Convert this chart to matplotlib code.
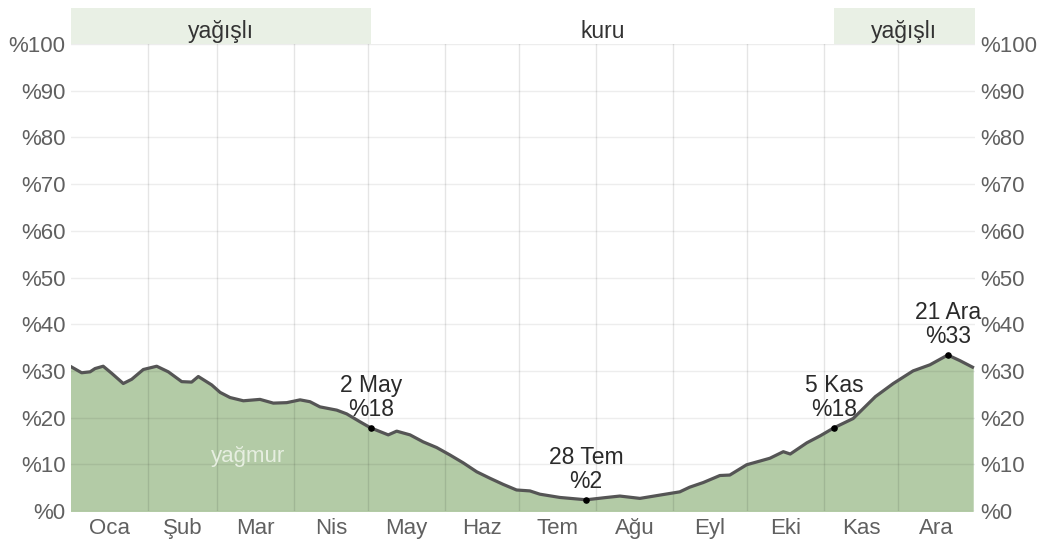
import numpy as np
import matplotlib.pyplot as plt
import matplotlib.transforms as mtransforms

plt.rcParams["font.family"] = ["Liberation Sans", "DejaVu Sans"]

# gün (yılın günü) ve yağmurlu gün olasılığı (%)
gun = [0, 4.3, 7.7, 9.7, 13, 16.4, 21.1, 24.5, 29.2, 34.6, 39.3, 44.7, 48.7, 51.4, 56.8,
       60.2, 64.2, 69.6, 76.3, 81.7, 87.1, 92.5, 96.5, 100.5, 107.3, 111.3, 116.7, 121,
       128.1, 131.5, 136.9, 142.2, 147.6, 153, 158.4, 163.8, 169.2, 174.5, 179.9, 185.3,
       189.3, 197.4, 208, 216.3, 221.6, 229.7, 237.7, 245.8, 249.8, 255.3, 262, 266,
       272.8, 278.2, 282.2, 287.6, 290.4, 297.1, 302.5, 308, 315.8, 324.8, 332, 340,
       346.8, 354, 358.9, 364]
olasilik = [30.9, 29.6, 29.8, 30.5, 31.0, 29.5, 27.3, 28.2, 30.3, 31.0, 29.8, 27.7, 27.6,
            28.8, 27.0, 25.4, 24.3, 23.6, 23.9, 23.1, 23.2, 23.8, 23.4, 22.3, 21.6, 20.8,
            19.1, 17.8, 16.3, 17.1, 16.3, 14.8, 13.6, 12.0, 10.3, 8.4, 7.0, 5.7, 4.5, 4.3,
            3.6, 2.9, 2.4, 2.9, 3.2, 2.7, 3.4, 4.1, 5.1, 6.1, 7.6, 7.7, 9.9, 10.7, 11.3,
            12.7, 12.2, 14.6, 16.1, 17.8, 19.8, 24.5, 27.3, 30.0, 31.3, 33.4, 32.2, 30.8]

aylar = ["Oca", "Şub", "Mar", "Nis", "May", "Haz", "Tem", "Ağu", "Eyl", "Eki", "Kas", "Ara"]
ay_sinir = [0, 31, 59, 90, 120, 151, 181, 212, 243, 273, 304, 334, 365]

isaret_gun = [121, 208, 308, 354]
isaret_deger = [17.8, 2.4, 17.8, 33.4]
isaret_yazi = ["2 May\n%18", "28 Tem\n%2", "5 Kas\n%18", "21 Ara\n%33"]

mevsim_bas = [0, 121, 308]
mevsim_son = [121, 308, 365]
mevsim_ad = ["yağışlı", "kuru", "yağışlı"]

fig = plt.figure(figsize=(10.47, 5.43), dpi=100)
ax = fig.add_axes([71 / 1047, 32 / 543, 904 / 1047, 467 / 543])

ax.fill_between(gun, olasilik, 0, color="#b3cba6", zorder=1)
ax.plot(gun, olasilik, color="#555555", lw=2.3, zorder=3)

for y in range(0, 101, 10):
    ax.axhline(y, color="black", alpha=0.07, lw=1, zorder=2)
for x in ay_sinir[1:-1]:
    ax.axvline(x, color="black", alpha=0.1, lw=1, zorder=2)

ax.scatter(isaret_gun, isaret_deger, s=14, color="black", zorder=4)
for g, d, t in zip(isaret_gun, isaret_deger, isaret_yazi):
    ax.annotate(t, (g, d), xytext=(0, 5), textcoords="offset points", ha="center",
                va="bottom", fontsize=16.5, color="#2a2a2a", linespacing=1.05, zorder=5)

ax.text(71.5, 11.6, "yağmur", color="#e6eee0", fontsize=16, ha="center", va="center", zorder=5)

trans = mtransforms.blended_transform_factory(ax.transData, ax.transAxes)
for b, s, ad in zip(mevsim_bas, mevsim_son, mevsim_ad):
    if ad == "yağışlı":
        ax.add_patch(plt.Rectangle((b, 1.0), s - b, 0.077, transform=trans,
                                   color="#e9f0e5", clip_on=False, lw=0))
    ax.text((b + s) / 2, 1.013, ad, transform=trans, ha="center", va="baseline",
            fontsize=16.5, color="#333333")

ax.set_xlim(0, 365)
ax.set_ylim(0, 100)
ax.set_xticks([(ay_sinir[i] + ay_sinir[i + 1]) / 2 for i in range(12)])
ax.set_xticklabels(aylar)
ax.set_yticks(range(0, 101, 10))
ax.set_yticklabels(["%" + str(v) for v in range(0, 101, 10)])
ax.tick_params(axis="both", length=0, labelsize=16, labelcolor="#606060")
ax.tick_params(axis="y", labelright=True, pad=4)
ax.tick_params(axis="x", pad=5)
for s in ax.spines.values():
    s.set_visible(False)

plt.savefig("out.png", dpi=100)
